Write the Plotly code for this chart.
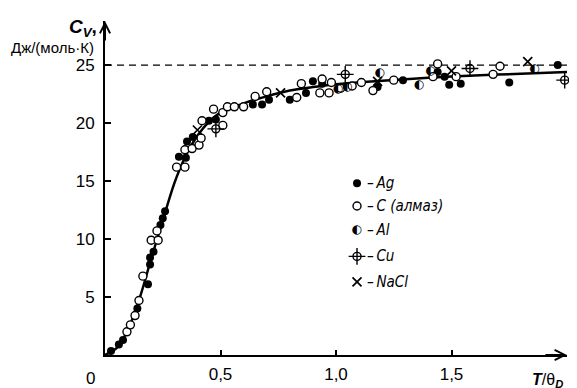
import plotly.graph_objects as go

# ---------------- data ----------------
curve_x = [0, 0.05, 0.1, 0.15, 0.2, 0.25, 0.3, 0.35, 0.4, 0.45, 0.5, 0.6, 0.7, 0.8, 0.9, 1.0, 1.2, 1.4, 1.6, 1.8, 2.0]
curve_y = [0, 0.6, 2.2, 4.9, 8.3, 11.6, 14.8, 17.2, 18.9, 20.1, 20.9, 21.7, 22.3, 22.8, 23.1, 23.35, 23.65, 23.9, 24.1, 24.25, 24.4]

ag_x = [0.026, 0.06, 0.078, 0.14, 0.186, 0.195, 0.195, 0.21, 0.24, 0.25, 0.26,
        0.32, 0.35, 0.355, 0.38, 0.45, 0.48, 0.64, 0.68, 0.71, 0.80, 0.87, 0.90, 0.94,
        1.18, 1.29, 1.44, 1.47, 1.49, 1.54, 1.75, 1.96]
ag_y = [0.34, 0.9, 1.3, 4.0, 6.1, 7.8, 8.4, 8.9, 11.2, 11.8, 12.4,
        17.1, 17.0, 18.4, 18.8, 20.2, 20.3, 21.6, 21.6, 22.0, 22.0, 22.6, 23.6, 23.4,
        23.1, 23.7, 24.4, 24.0, 23.3, 23.4, 23.5, 25.0]

c_x = [0.095, 0.11, 0.13, 0.147, 0.164, 0.2, 0.225, 0.23,
       0.31, 0.346, 0.346, 0.377, 0.407, 0.416, 0.42, 0.47, 0.51, 0.51, 0.53, 0.56, 0.60,
       0.65, 0.70, 0.83, 0.85, 0.93, 0.97, 0.98, 0.94, 1.02, 1.07, 1.11, 1.16, 1.25,
       1.42, 1.44, 1.52, 1.68, 1.71]
c_y = [2.0, 2.6, 3.4, 4.7, 6.8, 9.9, 10.7, 9.9,
       16.2, 16.2, 17.7, 17.8, 18.1, 18.7, 20.2, 21.2, 19.8, 20.9, 21.4, 21.4, 21.4,
       22.3, 22.7, 22.2, 23.4, 22.6, 22.6, 23.5, 23.8, 23.0, 23.2, 23.5, 22.8, 23.7,
       24.0, 25.1, 24.0, 24.2, 24.9]

al_x = [1.01, 1.05, 1.19, 1.36, 1.41, 1.86]
al_y = [22.9, 23.1, 24.3, 23.3, 24.5, 24.7]

cu_x = [0.48, 1.04, 1.58, 1.99]
cu_y = [19.5, 24.2, 24.7, 23.7]

nacl_x = [0.40, 0.76, 1.18, 1.50, 1.83]
nacl_y = [19.4, 22.6, 23.6, 24.5, 25.3]

limit_y = 25
x_tick_vals = [0.5, 1.0, 1.5]
x_tick_text = ["0,5", "1,0", "1,5"]
y_tick_vals = [5, 10, 15, 20, 25]
y_tick_text = ["5", "10", "15", "20", "25"]

legend_labels = ["–\u2009Ag", "–\u2009C (алмаз)", "–\u2009Al", "–\u2009Cu", "–\u2009NaCl"]

# ---------------- styles ----------------
BLACK = "black"
TICK_FONT = dict(family="Liberation Sans, Arial", size=17, color=BLACK)
LEG_FONT = dict(family="DejaVu Sans Condensed, DejaVu Sans", size=15, color=BLACK, style="italic")

STY_AG = dict(mode="markers", marker=dict(symbol="circle", size=8, color=BLACK))
STY_C = dict(mode="markers", marker=dict(symbol="circle", size=8, color="white", line=dict(color=BLACK, width=1.4)))
STY_AL = dict(mode="text", textfont=dict(family="DejaVu Sans", size=12, color=BLACK))
STY_CU1 = dict(mode="markers", marker=dict(symbol="circle-open", size=8, color=BLACK, line=dict(color=BLACK, width=1.4)))
STY_CU2 = dict(mode="markers", marker=dict(symbol="cross-thin-open", size=12, color=BLACK, line=dict(color=BLACK, width=1.4)))
STY_NACL = dict(mode="markers", marker=dict(symbol="x-thin-open", size=9, color=BLACK, line=dict(color=BLACK, width=1.7)))

fig = go.Figure()

fig.add_trace(go.Scatter(x=curve_x, y=curve_y, mode="lines",
                         line=dict(color=BLACK, width=2.5, shape="spline", smoothing=0.8),
                         showlegend=False, hoverinfo="skip"))

def add_series(xs, ys, style, text=None):
    kw = dict(style)
    if text is not None:
        kw["text"] = [text] * len(xs)
    fig.add_trace(go.Scatter(x=xs, y=ys, showlegend=False, cliponaxis=False, **kw))

add_series(ag_x, ag_y, STY_AG)
add_series(c_x, c_y, STY_C)
add_series(al_x, al_y, STY_AL, text="◐")
add_series(cu_x, cu_y, STY_CU2)
add_series(cu_x, cu_y, STY_CU1)
add_series(nacl_x, nacl_y, STY_NACL)

# ---------------- custom legend ----------------
LEG_X = 1.091
LEG_Y = [14.8, 12.85, 10.8, 8.5, 6.3]
LEG_TX = 1.125
add_series([LEG_X], [LEG_Y[0]], STY_AG)
add_series([LEG_X], [LEG_Y[1]], STY_C)
add_series([LEG_X], [LEG_Y[2]], STY_AL, text="◐")
add_series([LEG_X], [LEG_Y[3]], STY_CU2)
add_series([LEG_X], [LEG_Y[3]], STY_CU1)
add_series([LEG_X], [LEG_Y[4]], STY_NACL)

annotations = []
for lab, ly in zip(legend_labels, LEG_Y):
    annotations.append(dict(x=LEG_TX, y=ly, xref="x", yref="y", text=lab, showarrow=False,
                            xanchor="left", yanchor="middle", font=LEG_FONT))

# axis arrows
annotations.append(dict(x=2.0, y=0, ax=1.9, ay=0, xref="x", yref="y", axref="x", ayref="y",
                        text="", showarrow=True, arrowhead=5, arrowsize=1, arrowwidth=2, arrowcolor=BLACK))
annotations.append(dict(x=0, y=28.8, ax=0, ay=27.0, xref="x", yref="y", axref="x", ayref="y",
                        text="", showarrow=True, arrowhead=5, arrowsize=1, arrowwidth=2, arrowcolor=BLACK))

# origin label
annotations.append(dict(x=0, y=0, xref="x", yref="y", text="0", showarrow=False,
                        xanchor="center", yanchor="middle", xshift=-15, yshift=-23, font=TICK_FONT))

# axis titles
annotations.append(dict(x=-0.013, y=0.978, xref="paper", yref="paper",
                        text="<b><i>C</i></b><sub><b><i>V</i></b></sub><b>,</b>",
                        showarrow=False, xanchor="right", yanchor="middle",
                        font=dict(family="Liberation Sans, Arial", size=19, color=BLACK)))
annotations.append(dict(x=-0.02, y=0.921, xref="paper", yref="paper",
                        text="Дж/(моль·К)", showarrow=False, xanchor="right", yanchor="middle",
                        font=dict(family="Liberation Sans, Arial", size=15, color=BLACK)))
annotations.append(dict(x=0.958, y=-0.075, xref="paper", yref="paper",
                        text="<b><i>T</i></b>/θ<sub><b><i>D</i></b></sub>",
                        showarrow=False, xanchor="center", yanchor="middle",
                        font=dict(family="Liberation Sans, Arial", size=16, color=BLACK)))

fig.update_layout(
    width=577, height=388,
    margin=dict(l=97, r=18, t=13, b=41),
    paper_bgcolor="white", plot_bgcolor="white",
    showlegend=False,
    annotations=annotations,
    shapes=[dict(type="line", xref="x", yref="y", x0=0, x1=2.0, y0=limit_y, y1=limit_y,
                 line=dict(color=BLACK, width=1.3, dash="7px,5px"), layer="below")],
    xaxis=dict(range=[0, 2.0], showline=True, linewidth=2, linecolor=BLACK,
               ticks="inside", ticklen=5, tickwidth=1.5, tickcolor=BLACK,
               tickvals=x_tick_vals, ticktext=x_tick_text, tickfont=TICK_FONT,
               showgrid=False, zeroline=False, ticklabelstandoff=3),
    yaxis=dict(range=[0, 28.8], showline=True, linewidth=2, linecolor=BLACK,
               ticks="inside", ticklen=6, tickwidth=1.5, tickcolor=BLACK,
               tickvals=y_tick_vals, ticktext=y_tick_text, tickfont=TICK_FONT,
               showgrid=False, zeroline=False, ticklabelstandoff=5),
)

fig.write_html("out.html")
